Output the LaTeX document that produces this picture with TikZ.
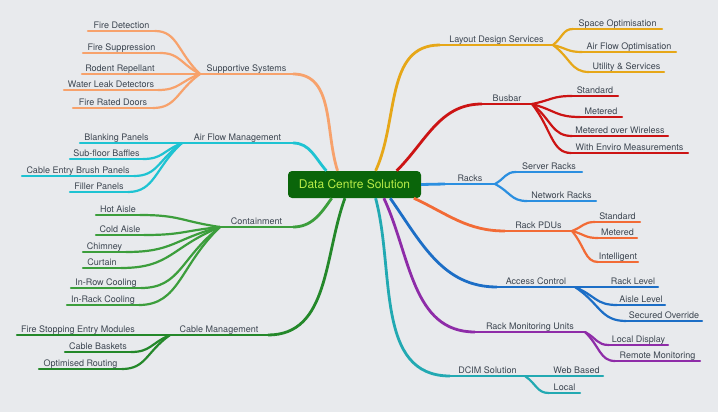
\documentclass[tikz,border=0pt]{standalone}
\usepackage{fontspec}
\setmainfont{TeX Gyre Heros}
\usetikzlibrary{calc}
\definecolor{paper}{HTML}{E8EAED}
\definecolor{ink}{HTML}{3D4651}
\definecolor{hubfill}{HTML}{0A650A}
\definecolor{hubtext}{HTML}{B8EC48}
\definecolor{supp}{HTML}{F7A26C}
\definecolor{airf}{HTML}{1EC3D2}
\definecolor{cont}{HTML}{3C9E3C}
\definecolor{cabl}{HTML}{24882A}
\definecolor{layo}{HTML}{E6A718}
\definecolor{busb}{HTML}{CC1414}
\definecolor{rack}{HTML}{2B8FE0}
\definecolor{pdus}{HTML}{F26B36}
\definecolor{acce}{HTML}{1C6EC6}
\definecolor{moni}{HTML}{8E2CA8}
\definecolor{dcim}{HTML}{22A9B2}
\newcommand{\lbl}{\fontsize{9}{11}\selectfont}
\newcommand{\hubf}{\fontsize{12}{14}\selectfont}

\begin{document}
\begin{tikzpicture}[x=1pt,y=-1pt,font=\lbl,line cap=round,
  tag/.style={anchor=south west,inner xsep=0pt,inner ysep=0.6pt,outer sep=0pt,text=ink,
    text height=7pt,text depth=2pt,
    append after command={(\tikzlastnode.south west) edge[line width=#1] (\tikzlastnode.south east)}},
  tag/.default=2.2pt,
  hub/.style={fill=hubfill,text=hubtext,font=\hubf,rounded corners=4pt,minimum width=133pt,minimum height=27pt,inner sep=0pt},
  bough/.style={line width=2.8pt,line cap=butt},
  twig/.style={line width=2.2pt,to path={.. controls ($(\tikztostart)!.5!(\tikztotarget)$) and ($(\tikztotarget)!.5!(\tikztostart |- \tikztotarget)$) .. (\tikztotarget)}}]
\fill[paper] (0,0) rectangle (718,412);
\useasboundingbox (0,0) rectangle (718,412);
\node[hub] (hub) at (354.5,184.5) {Data Centre Solution};

\begin{scope}[color=supp]
\node[tag=2.8pt,minimum width=93] (sup) at (200,74) {Supportive Systems};
\node[tag,minimum width=67] (fdet) at (88,31) {Fire Detection};
\node[tag,minimum width=77] (fsup) at (83,53) {Fire Suppression};
\node[tag,minimum width=76] (rode) at (82,74) {Rodent Repellant};
\node[tag,minimum width=94] (wled) at (64,90) {Water Leak Detectors};
\node[tag,minimum width=80] (frdo) at (73,108) {Fire Rated Doors};
\draw[bough] (hub.141) to[out=108,in=0] (sup.south east);
\foreach \n in {fdet,fsup,rode,wled,frdo} \draw[twig] (sup.south west) to (\n.south east);
\end{scope}

\begin{scope}[color=airf]
\node[tag=2.8pt,minimum width=111] (afm) at (182,143) {Air Flow Management};
\node[tag,minimum width=73] (blnk) at (80,143) {Blanking Panels};
\node[tag,minimum width=73] (sfb) at (70,159) {Sub-floor Baffles};
\node[tag,minimum width=112] (cebp) at (22,176) {Cable Entry Brush Panels};
\node[tag,minimum width=58] (fill) at (70,192) {Filler Panels};
\draw[bough] (hub.154) to[out=132,in=0] (afm.south east);
\foreach \n in {blnk,sfb,cebp,fill} \draw[twig] (afm.south west) to (\n.south east);
\end{scope}

\begin{scope}[color=cont]
\node[tag=2.8pt,minimum width=73] (cnt) at (220,227) {Containment};
\node[tag,minimum width=44] (hot) at (96,215) {Hot Aisle};
\node[tag,minimum width=48] (cold) at (96,235) {Cold Aisle};
\node[tag,minimum width=43] (chim) at (83,252) {Chimney};
\node[tag,minimum width=38] (curt) at (83,268) {Curtain};
\node[tag,minimum width=70] (inrow) at (71,288) {In-Row Cooling};
\node[tag,minimum width=72] (inrack) at (67,305) {In-Rack Cooling};
\draw[bough] (hub.211) to[out=235,in=0] (cnt.south east);
\foreach \n in {hot,cold,chim,curt,inrow,inrack} \draw[twig] (cnt.south west) to (\n.south east);
\end{scope}

\begin{scope}[color=cabl]
\node[tag=2.8pt,minimum width=98] (cbm) at (170,335) {Cable Management};
\node[tag,minimum width=122] (fsem) at (17,335) {Fire Stopping Entry Modules};
\node[tag,minimum width=66] (cbsk) at (65,352) {Cable Baskets};
\node[tag,minimum width=83] (optr) at (39,369) {Optimised Routing};
\draw[bough] (hub.235) to[out=250,in=0] (cbm.south east);
\foreach \n in {fsem,cbsk,optr} \draw[twig] (cbm.south west) to (\n.south east);
\end{scope}

\begin{scope}[color=layo]
\node[tag=2.8pt,minimum width=113] (lds) at (440,45) {Layout Design Services};
\node[tag,minimum width=89] (spo) at (573,29) {Space Optimisation};
\node[tag,minimum width=94] (afo) at (582,52) {Air Flow Optimisation};
\node[tag,minimum width=75] (uts) at (589,72) {Utility \& Services};
\draw[bough] (hub.33) to[out=65,in=180] (lds.south west);
\foreach \n in {spo,afo,uts} \draw[twig] (lds.south east) to (\n.south west);
\end{scope}

\begin{scope}[color=busb]
\node[tag=2.8pt,minimum width=50] (bus) at (482,104) {Busbar};
\node[tag,minimum width=46] (bstd) at (572,96) {Standard};
\node[tag,minimum width=42] (bmet) at (580,117) {Metered};
\node[tag,minimum width=96] (bmow) at (572,136) {Metered over Wireless};
\node[tag,minimum width=117] (bwem) at (571,153) {With Enviro Measurements};
\draw[bough] (hub.18) to[out=45,in=180] (bus.south west);
\foreach \n in {bstd,bmet,bmow,bwem} \draw[twig] (bus.south east) to (\n.south west);
\end{scope}

\begin{scope}[color=rack]
\node[tag=2.8pt,minimum width=50] (rck) at (445,184) {Racks};
\node[tag,minimum width=66] (srvr) at (516,172) {Server Racks};
\node[tag,minimum width=69] (netr) at (527,201) {Network Racks};
\draw[bough] (hub.east) -- (rck.south west);
\foreach \n in {srvr,netr} \draw[twig] (rck.south east) to (\n.south west);
\end{scope}

\begin{scope}[color=pdus]
\node[tag=2.8pt,minimum width=67] (pdu) at (505,231) {Rack PDUs};
\node[tag,minimum width=45] (pstd) at (595,222) {Standard};
\node[tag,minimum width=39] (pmet) at (598,238) {Metered};
\node[tag,minimum width=40] (pint) at (598,262) {Intelligent};
\draw[bough] (hub.-13) to[out=-25,in=180] (pdu.south west);
\foreach \n in {pstd,pmet,pint} \draw[twig] (pdu.south east) to (\n.south west);
\end{scope}

\begin{scope}[color=acce]
\node[tag=2.8pt,minimum width=78] (acc) at (497,287) {Access Control};
\node[tag,minimum width=50] (rlvl) at (608,287) {Rack Level};
\node[tag,minimum width=48] (alvl) at (617,305) {Aisle Level};
\node[tag,minimum width=76] (sovr) at (626,321) {Secured Override};
\draw[bough] (hub.-21) to[out=-55,in=180] (acc.south west);
\foreach \n in {rlvl,alvl,sovr} \draw[twig] (acc.south east) to (\n.south west);
\end{scope}

\begin{scope}[color=moni]
\node[tag=2.8pt,minimum width=110] (rmu) at (475,332) {Rack Monitoring Units};
\node[tag,minimum width=59] (ldsp) at (609,345) {Local Display};
\node[tag,minimum width=85] (rmon) at (615,361) {Remote Monitoring};
\draw[bough] (hub.-25) to[out=-65,in=180] (rmu.south west);
\foreach \n in {ldsp,rmon} \draw[twig] (rmu.south east) to (\n.south west);
\end{scope}

\begin{scope}[color=dcim]
\node[tag=2.8pt,minimum width=75] (dci) at (450,376) {DCIM Solution};
\node[tag,minimum width=53] (webb) at (550,376) {Web Based};
\node[tag,minimum width=31] (locl) at (549,393) {Local};
\draw[bough] (hub.-33) to[out=-75,in=180] (dci.south west);
\foreach \n in {webb,locl} \draw[twig] (dci.south east) to (\n.south west);
\end{scope}
\end{tikzpicture}
\end{document}
